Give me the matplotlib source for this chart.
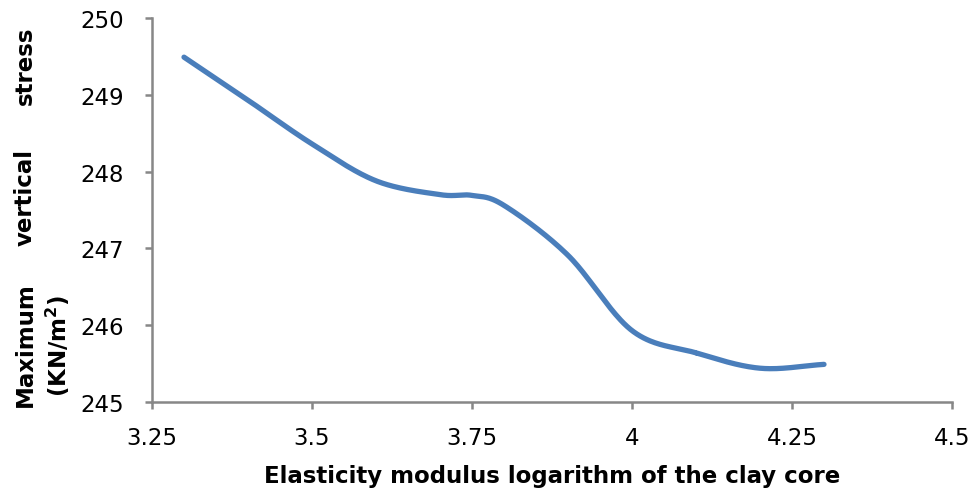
import numpy as np
import matplotlib
matplotlib.use("Agg")
import matplotlib.pyplot as plt

# data
log_e = [3.3, 3.4, 3.5, 3.6, 3.7, 3.75, 3.8, 3.9, 4.0, 4.1, 4.2, 4.3]
max_stress = [249.49, 248.93, 248.36, 247.88, 247.70, 247.69, 247.56, 246.91, 245.93, 245.64, 245.44, 245.49]

x_ticks = [3.25, 3.5, 3.75, 4, 4.25, 4.5]
x_tick_labels = ["3.25", "3.5", "3.75", "4", "4.25", "4.5"]
y_ticks = [245, 246, 247, 248, 249, 250]


# smooth line like the spreadsheet "smoothed line" option (Catmull-Rom)
def smooth(xs, ys, n=40):
    px = np.array(xs, dtype=float)
    py = np.array(ys, dtype=float)
    px = np.concatenate([[2 * px[0] - px[1]], px, [2 * px[-1] - px[-2]]])
    py = np.concatenate([[2 * py[0] - py[1]], py, [2 * py[-1] - py[-2]]])
    out_x, out_y = [], []
    t = np.linspace(0, 1, n)
    for i in range(1, len(px) - 2):
        for arr, out in ((px, out_x), (py, out_y)):
            p0, p1, p2, p3 = arr[i - 1], arr[i], arr[i + 1], arr[i + 2]
            seg = 0.5 * ((2 * p1) + (-p0 + p2) * t
                         + (2 * p0 - 5 * p1 + 4 * p2 - p3) * t ** 2
                         + (-p0 + 3 * p1 - 3 * p2 + p3) * t ** 3)
            out.extend(seg)
    return np.array(out_x), np.array(out_y)


sx, sy = smooth(log_e, max_stress)

fig = plt.figure(figsize=(9.77, 4.89), dpi=100, facecolor="white")
ax = fig.add_axes([152 / 977, 1 - 403 / 489, 800 / 977, 384 / 489])

ax.plot(sx, sy, color="#4a7ebb", lw=3.8, solid_capstyle="round")

ax.set_xlim(3.25, 4.5)
ax.set_ylim(245, 250)
ax.set_xticks(x_ticks)
ax.set_xticklabels(x_tick_labels)
ax.set_yticks(y_ticks)

gray = "#878787"
for s in ("top", "right"):
    ax.spines[s].set_visible(False)
for s in ("left", "bottom"):
    ax.spines[s].set_color(gray)
    ax.spines[s].set_linewidth(1.8)
ax.tick_params(axis="both", direction="out", length=5, width=1.8, color=gray,
               labelsize=16.5, labelcolor="black")
ax.tick_params(axis="x", pad=12)
ax.tick_params(axis="y", pad=15)

ax.set_xlabel("Elasticity modulus logarithm of the clay core",
              fontsize=16.5, fontweight="bold", labelpad=11)

# y label spread over the axis height like the original
ylab = dict(rotation=90, fontsize=16.5, fontweight="bold", ha="center", va="center")
fig.text(25 / 977, 1 - 345 / 489, "Maximum", **ylab)
fig.text(25 / 977, 1 - 198 / 489, "vertical", **ylab)
fig.text(25 / 977, 1 - 66 / 489, "stress", **ylab)
fig.text(58 / 977, 1 - 346 / 489, "(KN/m$^\\mathbf{2}$)", **ylab)

fig.savefig("out.png", dpi=100, facecolor="white")
